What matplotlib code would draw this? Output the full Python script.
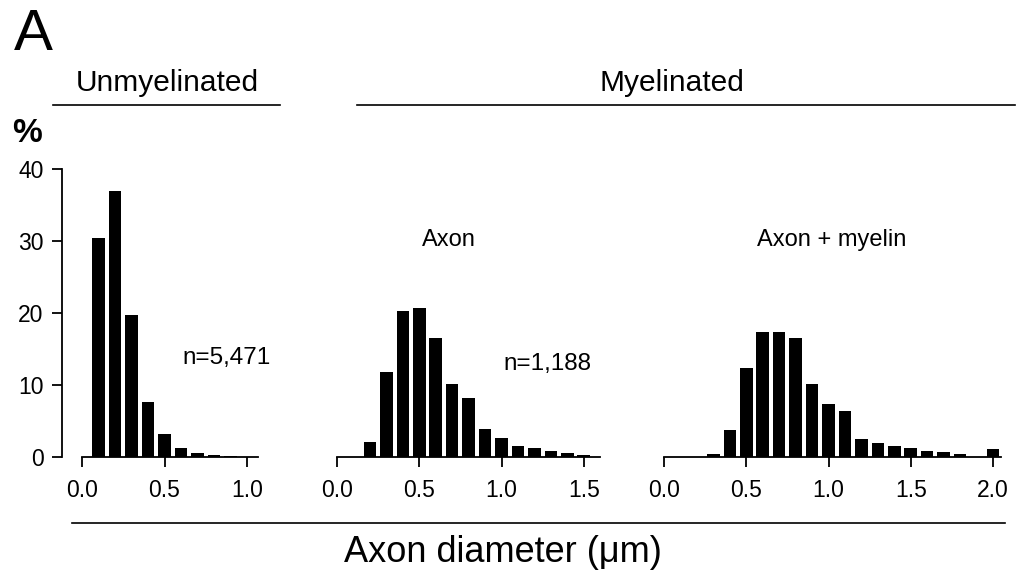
import matplotlib
matplotlib.use("Agg")
import matplotlib.pyplot as plt
from matplotlib.lines import Line2D

plt.rcParams['font.family'] = ['Liberation Sans', 'DejaVu Sans']

# ---- data ----
unmy_centers = [0.1, 0.2, 0.3, 0.4, 0.5, 0.6, 0.7, 0.8, 0.9, 1.0]
unmy_pct = [30.4, 37.0, 19.8, 7.6, 3.2, 1.2, 0.6, 0.25, 0.1, 0.05]

axon_centers = [0.2, 0.3, 0.4, 0.5, 0.6, 0.7, 0.8, 0.9, 1.0, 1.1, 1.2, 1.3, 1.4, 1.5]
axon_pct = [2.1, 11.8, 20.3, 20.7, 16.6, 10.1, 8.2, 3.9, 2.6, 1.6, 1.3, 0.8, 0.6, 0.25]

myel_centers = [0.3, 0.4, 0.5, 0.6, 0.7, 0.8, 0.9, 1.0, 1.1, 1.2, 1.3, 1.4, 1.5,
                1.6, 1.7, 1.8, 1.9, 2.0]
myel_pct = [0.45, 3.8, 12.4, 17.4, 17.4, 16.6, 10.2, 7.4, 6.4, 2.5, 2.0, 1.6, 1.3,
            0.9, 0.7, 0.35, 0.05, 1.1]

yticks = [0, 10, 20, 30, 40]
xticks1 = [0.0, 0.5, 1.0]
xticks2 = [0.0, 0.5, 1.0, 1.5]
xticks3 = [0.0, 0.5, 1.0, 1.5, 2.0]
xtick_labels1 = ["0.0", "0.5", "1.0"]
xtick_labels2 = ["0.0", "0.5", "1.0", "1.5"]
xtick_labels3 = ["0.0", "0.5", "1.0", "1.5", "2.0"]

W, H = 1018, 579
fig = plt.figure(figsize=(W / 100, H / 100), dpi=100)

S = 164.5  # px per unit
Y0, Y40 = 457, 169.5


def make_ax(left_px, right_px, zero_px):
    ax = fig.add_axes([left_px / W, 1 - Y0 / H, (right_px - left_px) / W, (Y0 - Y40) / H])
    ax.set_xlim((left_px - zero_px) / S, (right_px - zero_px) / S)
    ax.set_ylim(0, 40)
    for sp in ['top', 'right']:
        ax.spines[sp].set_visible(False)
    for sp in ['left', 'bottom']:
        ax.spines[sp].set_linewidth(1.3)
    ax.tick_params(direction='out', length=7.2, width=1.3, labelsize=16.5)
    ax.tick_params(axis='x', pad=8.5)
    ax.tick_params(axis='y', pad=6)
    return ax


BAR_W = 0.076

ax1 = make_ax(62, 265, 82.3)
ax1.bar(unmy_centers, unmy_pct, width=BAR_W, color='black', clip_on=False)
ax1.set_yticks(yticks)
ax1.spines['left'].set_bounds(0, 40)
ax1.set_xticks(xticks1)
ax1.set_xticklabels(xtick_labels1)
ax1.spines['bottom'].set_bounds(0, 1.07)

ax2 = make_ax(330, 610, 337)
ax2.bar(axon_centers, axon_pct, width=BAR_W, color='black', clip_on=False)
ax2.spines['left'].set_visible(False)
ax2.set_yticks([])
ax2.set_xticks(xticks2)
ax2.set_xticklabels(xtick_labels2)
ax2.spines['bottom'].set_bounds(0, 1.6)

ax3 = make_ax(655, 1012, 664)
ax3.bar(myel_centers, myel_pct, width=BAR_W, color='black', clip_on=False)
ax3.spines['left'].set_visible(False)
ax3.set_yticks([])
ax3.set_xticks(xticks3)
ax3.set_xticklabels(xtick_labels3)
ax3.spines['bottom'].set_bounds(0, 2.05)


def T(x, y, s, **kw):
    fig.text(x / W, 1 - y / H, s, **kw)


def L(x0, x1, y, lw=1.2):
    fig.add_artist(Line2D([x0 / W, x1 / W], [1 - y / H, 1 - y / H],
                          transform=fig.transFigure, color='black', lw=lw))


T(14, 50, "A", fontsize=42, ha='left', va='baseline')
T(167, 83, "Unmyelinated", fontsize=21.5, ha='center', va='center')
L(53, 280, 105)
T(672, 83, "Myelinated", fontsize=21.5, ha='center', va='center')
L(357, 1015, 105)
T(12, 134, "%", fontsize=24, fontweight='bold', ha='left', va='center')
T(449, 240, "Axon", fontsize=17, ha='center', va='center')
T(832, 240, "Axon + myelin", fontsize=17, ha='center', va='center')
T(227, 358, "n=5,471", fontsize=17.5, ha='center', va='center')
T(547, 364, "n=1,188", fontsize=17.5, ha='center', va='center')
L(72, 1005, 523)
T(503, 553, "Axon diameter (\u03bcm)", fontsize=26, ha='center', va='center')

fig.savefig("out.png", dpi=100)
